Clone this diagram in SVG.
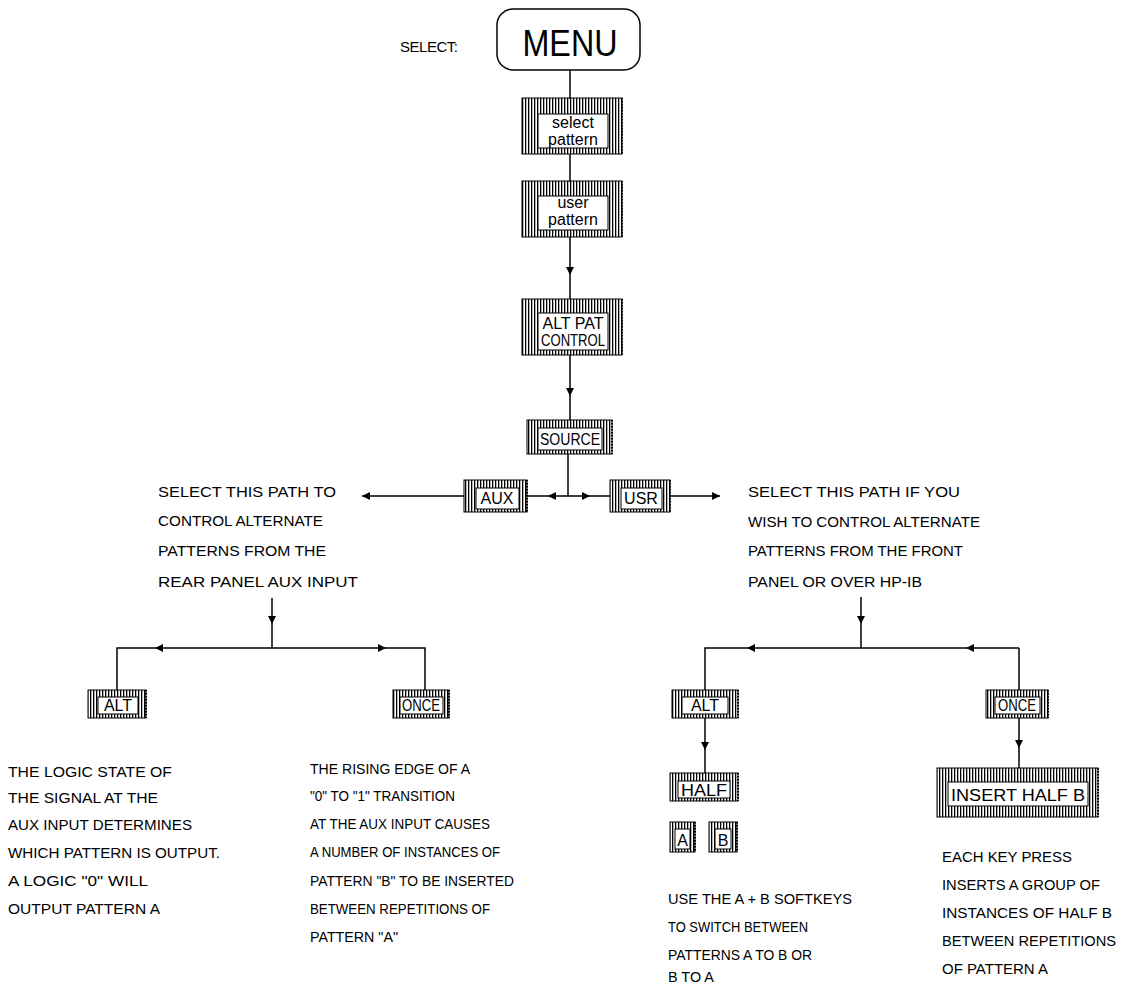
<svg xmlns="http://www.w3.org/2000/svg" width="1148" height="984" viewBox="0 0 1148 984">
<style>
.t{font-family:"Liberation Sans",Arial,sans-serif;font-size:15px;fill:#000}
.k{font-family:"Liberation Sans",Arial,sans-serif;font-size:16px;fill:#000;text-anchor:middle}
.ko{fill:url(#hatch);stroke:#000;stroke-width:1}
.ki{fill:#fff;stroke:#000;stroke-width:1}
.kd{fill:none;stroke:#000;stroke-width:2;stroke-dasharray:1.5 1.5}
.c{fill:none;stroke:#000;stroke-width:1.5}
</style>
<defs>
<pattern id="hatch" width="3" height="3" patternUnits="userSpaceOnUse"><rect width="1.3" height="3" fill="#000"/></pattern>
<marker id="ah" viewBox="0 0 10 10" refX="10" refY="5" markerWidth="10" markerHeight="8" markerUnits="userSpaceOnUse" orient="auto"><path d="M0,0 L10,5 L0,10 Z" fill="#000"/></marker>
</defs>

<g id="connectors">
<line class="c" x1="570" y1="70" x2="570" y2="99"/>
<line class="c" x1="570" y1="154" x2="570" y2="182"/>
<line class="c" x1="570" y1="237" x2="570" y2="275" marker-end="url(#ah)"/>
<line class="c" x1="570" y1="275" x2="570" y2="299"/>
<line class="c" x1="570" y1="355" x2="570" y2="396" marker-end="url(#ah)"/>
<line class="c" x1="570" y1="396" x2="570" y2="420"/>
<line class="c" x1="568" y1="454" x2="568" y2="496"/>
<line class="c" x1="464" y1="496" x2="362" y2="496" marker-end="url(#ah)"/>
<line class="c" x1="568" y1="496" x2="548" y2="496" marker-end="url(#ah)"/>
<line class="c" x1="548" y1="496" x2="527" y2="496"/>
<line class="c" x1="568" y1="496" x2="590" y2="496" marker-end="url(#ah)"/>
<line class="c" x1="590" y1="496" x2="610" y2="496"/>
<line class="c" x1="670" y1="496" x2="720" y2="496" marker-end="url(#ah)"/>
<line class="c" x1="272" y1="598" x2="272" y2="624" marker-end="url(#ah)"/>
<line class="c" x1="272" y1="624" x2="272" y2="648"/>
<line class="c" x1="272" y1="648" x2="155" y2="648" marker-end="url(#ah)"/>
<polyline class="c" points="155,648 117,648 117,690"/>
<line class="c" x1="272" y1="648" x2="386" y2="648" marker-end="url(#ah)"/>
<polyline class="c" points="386,648 425,648 425,690"/>
<line class="c" x1="861" y1="597" x2="861" y2="624" marker-end="url(#ah)"/>
<line class="c" x1="861" y1="624" x2="861" y2="648"/>
<line class="c" x1="861" y1="648" x2="747" y2="648" marker-end="url(#ah)"/>
<polyline class="c" points="747,648 705,648 705,690"/>
<line class="c" x1="1019" y1="648" x2="966" y2="648" marker-end="url(#ah)"/>
<line class="c" x1="861" y1="648" x2="966" y2="648"/>
<line class="c" x1="1019" y1="648" x2="1019" y2="690"/>
<line class="c" x1="705" y1="718" x2="705" y2="750" marker-end="url(#ah)"/>
<line class="c" x1="705" y1="750" x2="705" y2="773"/>
<line class="c" x1="1019" y1="718" x2="1019" y2="748" marker-end="url(#ah)"/>
<line class="c" x1="1019" y1="748" x2="1019" y2="768"/>
</g>

<g id="label-select">
<text class="t" x="400" y="52" font-size="14" textLength="58" lengthAdjust="spacing">SELECT:</text>
</g>

<g id="menu">
<rect x="497" y="9" width="143" height="61" rx="16" fill="#fff" stroke="#000" stroke-width="1.5"/>
<text x="570" y="56" font-family="Liberation Sans, Arial, sans-serif" font-size="37" text-anchor="middle" textLength="95" lengthAdjust="spacingAndGlyphs">MENU</text>
</g>

<g id="select-pattern">
<rect class="ko" x="522" y="98" width="100" height="56"/>
<rect class="ki" x="538" y="114" width="70" height="34"/>
<line class="kd" x1="622" y1="98" x2="622" y2="154"/>
<text class="k" x="573" y="128" font-size="15">select</text>
<text class="k" x="573" y="145" font-size="11">pattern</text>
</g>

<g id="user-pattern">
<rect class="ko" x="522" y="181" width="100" height="56"/>
<rect class="ki" x="538" y="196" width="70" height="34"/>
<line class="kd" x1="622" y1="181" x2="622" y2="237"/>
<text class="k" x="573" y="208" font-size="12">user</text>
<text class="k" x="573" y="225" font-size="14">pattern</text>
</g>

<g id="alt-pat-control">
<rect class="ko" x="522" y="299" width="100" height="56"/>
<rect class="ki" x="538" y="313" width="70" height="37"/>
<line class="kd" x1="622" y1="299" x2="622" y2="355"/>
<text class="k" x="573" y="329" font-size="14">ALT PAT</text>
<text class="k" x="573" y="346" font-size="14" textLength="64" lengthAdjust="spacingAndGlyphs">CONTROL</text>
</g>

<g id="source">
<rect class="ko" x="527" y="420" width="85" height="34"/>
<rect class="ki" x="538" y="428" width="64" height="22"/>
<line class="kd" x1="612" y1="420" x2="612" y2="454"/>
<text class="k" x="570" y="445" textLength="60" lengthAdjust="spacingAndGlyphs">SOURCE</text>
</g>

<g id="aux">
<rect class="ko" x="464" y="480" width="63" height="32"/>
<rect class="ki" x="476" y="488" width="43" height="21"/>
<line class="kd" x1="527" y1="480" x2="527" y2="512"/>
<text class="k" x="497" y="504">AUX</text>
</g>

<g id="usr">
<rect class="ko" x="610" y="480" width="60" height="32"/>
<rect class="ki" x="621" y="488" width="41" height="21"/>
<line class="kd" x1="670" y1="480" x2="670" y2="512"/>
<text class="k" x="641" y="504">USR</text>
</g>

<g id="aux-note">
<text class="t" x="158" y="497" textLength="178" lengthAdjust="spacingAndGlyphs">SELECT THIS PATH TO</text>
<text class="t" x="158" y="526" textLength="165" lengthAdjust="spacingAndGlyphs">CONTROL ALTERNATE</text>
<text class="t" x="158" y="556" textLength="168" lengthAdjust="spacingAndGlyphs">PATTERNS FROM THE</text>
<text class="t" x="158" y="587" textLength="200" lengthAdjust="spacingAndGlyphs">REAR PANEL AUX INPUT</text>
</g>

<g id="usr-note">
<text class="t" x="748" y="497" textLength="212" lengthAdjust="spacingAndGlyphs">SELECT THIS PATH IF YOU</text>
<text class="t" x="748" y="527" textLength="232" lengthAdjust="spacingAndGlyphs">WISH TO CONTROL ALTERNATE</text>
<text class="t" x="748" y="556" textLength="215" lengthAdjust="spacingAndGlyphs">PATTERNS FROM THE FRONT</text>
<text class="t" x="748" y="587" textLength="174" lengthAdjust="spacingAndGlyphs">PANEL OR OVER HP-IB</text>
</g>

<g id="alt-aux">
<rect class="ko" x="88" y="690" width="58" height="28"/>
<rect class="ki" x="98" y="697" width="40" height="17"/>
<line class="kd" x1="146" y1="690" x2="146" y2="718"/>
<text class="k" x="118" y="711">ALT</text>
</g>

<g id="once-aux">
<rect class="ko" x="393" y="690" width="56" height="28"/>
<rect class="ki" x="400" y="697" width="43" height="17"/>
<line class="kd" x1="449" y1="690" x2="449" y2="718"/>
<text class="k" x="421" y="711" textLength="38" lengthAdjust="spacingAndGlyphs">ONCE</text>
</g>

<g id="alt-aux-note">
<text class="t" x="8" y="777" textLength="164" lengthAdjust="spacingAndGlyphs">THE LOGIC STATE OF</text>
<text class="t" x="8" y="803" textLength="150" lengthAdjust="spacingAndGlyphs">THE SIGNAL AT THE</text>
<text class="t" x="8" y="830" textLength="184" lengthAdjust="spacingAndGlyphs">AUX INPUT DETERMINES</text>
<text class="t" x="8" y="858" textLength="212" lengthAdjust="spacingAndGlyphs">WHICH PATTERN IS OUTPUT.</text>
<text class="t" x="8" y="886" textLength="140" lengthAdjust="spacingAndGlyphs">A LOGIC "0" WILL</text>
<text class="t" x="8" y="914" textLength="152" lengthAdjust="spacingAndGlyphs">OUTPUT PATTERN A</text>
</g>

<g id="once-aux-note">
<text class="t" x="310" y="774" textLength="160" lengthAdjust="spacingAndGlyphs">THE RISING EDGE OF A</text>
<text class="t" x="310" y="801" textLength="145" lengthAdjust="spacingAndGlyphs">"0" TO "1" TRANSITION</text>
<text class="t" x="310" y="829" textLength="180" lengthAdjust="spacingAndGlyphs">AT THE AUX INPUT CAUSES</text>
<text class="t" x="310" y="857" textLength="190" lengthAdjust="spacingAndGlyphs">A NUMBER OF INSTANCES OF</text>
<text class="t" x="310" y="886" textLength="204" lengthAdjust="spacingAndGlyphs">PATTERN "B" TO BE INSERTED</text>
<text class="t" x="310" y="914" textLength="180" lengthAdjust="spacingAndGlyphs">BETWEEN REPETITIONS OF</text>
<text class="t" x="310" y="942" textLength="88" lengthAdjust="spacingAndGlyphs">PATTERN "A"</text>
</g>

<g id="alt-usr">
<rect class="ko" x="672" y="690" width="66" height="28"/>
<rect class="ki" x="682" y="697" width="46" height="17"/>
<line class="kd" x1="738" y1="690" x2="738" y2="718"/>
<text class="k" x="705" y="711">ALT</text>
</g>

<g id="half">
<rect class="ko" x="670" y="773" width="68" height="28"/>
<rect class="ki" x="678" y="781" width="52" height="17"/>
<line class="kd" x1="738" y1="773" x2="738" y2="801"/>
<text class="k" x="704" y="796" textLength="46" lengthAdjust="spacingAndGlyphs">HALF</text>
</g>

<g id="key-a">
<rect class="ko" x="670" y="822" width="25" height="30"/>
<rect class="ki" x="675" y="829" width="15" height="20"/>
<line class="kd" x1="695" y1="822" x2="695" y2="852"/>
<text class="k" x="682.5" y="846">A</text>
</g>

<g id="key-b">
<rect class="ko" x="709" y="822" width="28" height="30"/>
<rect class="ki" x="715" y="829" width="16" height="20"/>
<line class="kd" x1="737" y1="822" x2="737" y2="852"/>
<text class="k" x="723" y="846">B</text>
</g>

<g id="alt-usr-note">
<text class="t" x="668" y="904" textLength="184" lengthAdjust="spacingAndGlyphs">USE THE A + B SOFTKEYS</text>
<text class="t" x="668" y="932" textLength="140" lengthAdjust="spacingAndGlyphs">TO SWITCH BETWEEN</text>
<text class="t" x="668" y="960" textLength="144" lengthAdjust="spacingAndGlyphs">PATTERNS A TO B OR</text>
<text class="t" x="668" y="982" textLength="46" lengthAdjust="spacingAndGlyphs">B TO A</text>
</g>

<g id="once-usr">
<rect class="ko" x="986" y="690" width="62" height="28"/>
<rect class="ki" x="995" y="697" width="45" height="17"/>
<line class="kd" x1="1048" y1="690" x2="1048" y2="718"/>
<text class="k" x="1017" y="711" textLength="38" lengthAdjust="spacingAndGlyphs">ONCE</text>
</g>

<g id="insert-half-b">
<rect class="ko" x="937" y="768" width="161" height="49"/>
<rect class="ki" x="948" y="782" width="140" height="24"/>
<line class="kd" x1="1098" y1="768" x2="1098" y2="817"/>
<text class="k" x="1018" y="801" textLength="134" lengthAdjust="spacingAndGlyphs">INSERT HALF B</text>
</g>

<g id="once-usr-note">
<text class="t" x="942" y="862" textLength="130" lengthAdjust="spacingAndGlyphs">EACH KEY PRESS</text>
<text class="t" x="942" y="890" textLength="158" lengthAdjust="spacingAndGlyphs">INSERTS A GROUP OF</text>
<text class="t" x="942" y="918" textLength="170" lengthAdjust="spacingAndGlyphs">INSTANCES OF HALF B</text>
<text class="t" x="942" y="946" textLength="174" lengthAdjust="spacingAndGlyphs">BETWEEN REPETITIONS</text>
<text class="t" x="942" y="974" textLength="106" lengthAdjust="spacingAndGlyphs">OF PATTERN A</text>
</g>
</svg>
